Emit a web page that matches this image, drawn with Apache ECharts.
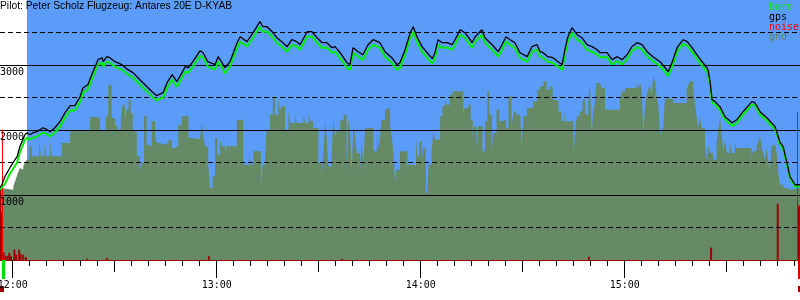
<!DOCTYPE html>
<html>
<head>
<meta charset="utf-8">
<script src="https://cdn.jsdelivr.net/npm/echarts@6/dist/echarts.min.js"></script>
<style>html,body{margin:0;padding:0;background:#fff}#c{width:800px;height:300px}</style>
</head>
<body>
<div id="c"></div>
<script>
// ---- data (time = minutes after 12:00, altitude in m) ----
const TITLE = 'Pilot: Peter Scholz Flugzeug: Antares 20E D-KYAB';
const XMIN = -3.735, XMAX = 231.55;
const SKY_START = 4.2;
const hourTicks = [0, 60, 120, 180];
const halfHourTicks = [30, 90, 150, 210];
const yLabels = [1000, 2000, 3000];
const solidLevels = [1000, 2000, 3000];
const dashedLevels = [500, 1500, 2500, 3500];
const takeoffT = [-2.85];
const landingT = [231.4];
const endMarkT = [-3.15, 231.4];

const trackT = [-3.7,-3.2,-2.3,-0.8,0.1,1.3,2.1,3.6,4.2,5.1,6.0,7.1,8.9,10.1,11.0,12.4,13.9,15.4,16.9,18.3,19.8,20.7,22.1,23.6,25.1,26.3,26.6,27.7,28.6,30.1,32.1,33.9,35.4,37.4,39.5,41.0,42.4,44.2,45.4,46.9,48.3,49.8,50.7,51.6,53.0,55.1,56.0,57.4,59.5,60.4,61.6,62.4,63.9,66.0,66.9,68.9,70.7,72.7,73.6,74.8,76.3,77.7,79.5,80.7,82.1,83.6,84.5,86.6,88.0,89.5,91.0,92.4,93.9,94.8,96.3,98.3,99.2,100.1,101.6,103.0,104.5,106.0,108.0,109.5,111.5,113.0,113.9,115.4,116.9,117.8,118.9,120.4,121.9,123.4,124.2,125.1,126.3,127.7,129.2,130.1,131.6,133.0,133.9,135.1,136.0,138.0,138.9,141.0,142.8,143.9,145.1,146.3,147.7,149.2,151.3,152.7,154.2,155.1,156.0,157.4,158.9,160.4,161.6,162.4,163.3,164.5,166.0,167.4,168.9,170.4,171.9,172.8,174.8,176.3,177.8,179.2,180.7,182.1,183.6,185.1,186.6,188.3,190.4,191.9,192.8,193.9,195.4,197.2,198.4,199.8,201.6,203.0,204.5,205.1,205.7,206.6,208.0,209.5,211.6,213.0,214.8,217.4,218.3,219.8,221.8,224.2,224.8,225.7,226.6,227.7,228.6,230.1,231.6];
const gps = [1112,1158,1282,1420,1497,1589,1743,1928,1958,1928,1958,1974,2035,2005,1974,2035,2128,2266,2374,2374,2512,2651,2697,2897,3082,3112,3051,3128,3112,3051,3005,2928,2882,2774,2666,2589,2528,2574,2728,2851,2743,2882,2974,2958,3051,3220,3189,3051,3005,3128,3035,2958,3051,3343,3435,3359,3497,3666,3589,3589,3512,3420,3343,3282,3389,3359,3312,3512,3512,3420,3343,3343,3266,3282,3189,3035,3005,3266,3205,3158,3312,3389,3343,3205,3112,3005,3035,3235,3497,3589,3435,3282,3189,3097,3189,3389,3343,3343,3312,3389,3543,3497,3435,3343,3435,3543,3420,3312,3205,3312,3435,3389,3343,3189,3128,3282,3312,3205,3189,3128,3112,3051,3005,3235,3435,3574,3466,3420,3312,3282,3235,3189,3189,3082,3128,3082,3158,3282,3343,3312,3205,3128,3051,2958,2897,3035,3266,3389,3359,3266,3128,3035,2928,2743,2466,2436,2359,2205,2112,2158,2282,2436,2420,2282,2189,2051,1958,1805,1743,1497,1282,1158,1158];
const baro = [1082,1100,1170,1330,1400,1500,1650,1850,1880,1855,1880,1900,1960,1935,1900,1960,2050,2190,2300,2300,2435,2575,2620,2820,3005,3040,2975,3050,3035,2975,2930,2850,2805,2700,2590,2515,2455,2500,2650,2775,2665,2805,2900,2880,2975,3140,3110,2975,2930,3050,2960,2870,2975,3265,3360,3285,3420,3590,3510,3515,3435,3345,3265,3205,3310,3285,3235,3435,3440,3345,3265,3270,3190,3205,3110,2960,2925,3190,3130,3080,3235,3310,3265,3130,3035,2925,2960,3160,3420,3510,3360,3205,3110,3020,3110,3310,3265,3270,3235,3310,3465,3420,3360,3265,3360,3465,3345,3235,3130,3235,3360,3310,3265,3110,3050,3205,3235,3130,3110,3050,3035,2975,2925,3160,3360,3495,3390,3345,3235,3205,3160,3120,3120,3010,3060,3010,3090,3215,3275,3245,3140,3060,2985,2895,2830,2970,3200,3325,3295,3205,3070,2975,2870,2690,2420,2390,2310,2160,2065,2110,2235,2390,2375,2235,2145,2010,1920,1770,1710,1470,1260,1130,1130];

const gndT = [-3.7,-3.2,0.2,0.7,1.2,1.7,2.1,2.6,3.1,3.6,4.1,4.9,5.6,7.8,8.3,9.3,9.8,11.0,11.5,14.4,16.9,22.7,24.7,25.7,27.4,28.1,29.1,30.1,30.8,31.8,32.3,33.0,33.5,34.1,34.7,35.3,36.5,37.4,37.9,38.6,39.4,39.9,40.9,41.9,42.3,43.3,44.8,45.8,46.8,47.7,48.7,49.7,51.7,52.6,55.1,55.6,56.1,56.6,57.5,58.0,58.8,59.5,60.2,61.0,61.5,62.5,62.9,65.9,67.8,69.6,70.0,70.8,73.0,73.5,74.2,74.7,75.7,76.5,77.1,78.1,78.6,79.1,80.1,81.1,81.6,83.0,83.5,85.5,86.0,87.0,87.5,88.4,89.9,90.9,91.4,91.9,92.3,92.8,93.8,94.3,94.8,95.3,96.3,96.8,97.3,98.2,98.7,99.2,99.7,100.2,100.7,101.2,102.2,102.6,103.1,103.6,106.1,107.1,107.5,108.0,108.5,109.5,110.0,111.0,111.5,112.0,112.4,112.9,113.9,116.1,117.8,118.6,119.0,119.6,120.3,120.8,121.5,121.9,122.3,123.2,123.7,124.2,125.7,126.4,127.1,127.6,128.6,129.4,132.5,133.0,134.0,134.7,135.3,135.7,136.4,136.9,138.2,138.9,139.6,140.2,140.9,141.3,142.3,143.1,143.8,145.1,145.8,146.7,147.2,147.7,148.2,149.2,149.7,150.2,151.2,153.1,154.3,155.1,156.1,157.0,158.0,158.8,159.5,160.5,161.4,162.2,162.5,164.9,165.4,165.9,166.8,167.6,168.3,169.3,169.8,170.3,170.8,171.2,171.7,172.7,173.2,174.2,178.6,179.1,180.1,183.5,184.0,184.5,185.0,185.5,185.9,186.4,186.9,187.4,187.9,188.4,188.9,189.4,189.9,190.3,190.8,191.3,191.8,192.3,193.3,194.3,198.2,198.7,199.2,200.1,200.6,201.1,201.6,202.1,202.6,203.6,204.1,204.6,205.1,206.0,207.0,207.5,208.0,208.5,209.0,209.5,210.0,210.9,211.4,212.4,212.9,217.3,217.8,218.8,219.3,219.8,220.2,220.7,221.2,221.7,222.2,222.7,223.2,223.7,224.2,224.7,225.2,225.6,226.6,227.6,229.1,231.6];
const gnd = [1108,1082,1133,1210,1287,1364,1415,1390,1441,1492,1543,1749,1595,1810,1595,1810,1595,1810,1595,1800,1979,2200,2184,1979,2210,2697,2184,2067,2005,2184,2390,2133,2323,2467,2261,1979,1595,1364,1492,2210,1774,1749,2133,1902,1800,1774,1800,1851,1723,1749,2082,2210,1877,1861,1877,2108,1877,1749,1467,1108,1287,1877,1620,1851,1749,1620,1749,2159,1467,1672,1467,1672,1159,1467,1595,2005,2236,2502,2236,2492,2313,2364,2005,2313,2108,2236,2108,2236,2108,2236,2133,2031,1492,1287,1672,2133,1902,1441,1646,2184,1902,1979,2133,2159,2236,1313,2184,1979,1338,2082,1902,1646,1338,1851,1441,2031,1672,2031,1697,1902,2159,2313,2338,2056,1902,1646,1210,1390,1672,1467,1441,1877,1595,1826,1518,1723,1056,1005,1467,1672,1979,1851,2210,2364,2467,2390,2543,2595,2287,2338,2390,2159,1902,2056,1697,2056,1672,2133,2595,2236,1672,1954,2313,2133,2159,2031,2518,2031,2236,2313,2236,2287,1749,2210,2338,2441,2620,2672,2749,2620,2672,2467,2441,2287,2133,2287,2133,1620,1954,2210,2287,2467,2236,2467,2697,1954,2313,2390,2723,2697,2646,2313,2467,2595,2646,2723,2646,2723,2620,1954,2313,2518,2620,2697,2543,2826,2749,2518,2364,2031,1902,2056,2467,2492,2467,2415,2620,2697,2749,2646,2441,2210,2031,2210,2031,1774,1543,1774,1646,1543,1800,1979,2210,1954,1672,1851,1646,1826,1646,1800,1723,1595,1672,1749,1826,1902,1749,1646,1543,1723,1543,1390,1749,1774,1800,1646,1338,1159,1108,1082,1108,1108];

const noiseT = [-3.7,-3.4,-2.7,-2.3,-1.6,-1.0,-0.5,0.5,1.0,1.9,2.3,3.1,3.9,21.9,27.7,57.7,96.9,169.5,205.4,225.0,231.0,231.4];
const noise = [1097,727,120,70,60,110,60,160,80,160,90,80,40,20,30,60,15,50,190,866,835,835];

const markerT = [-3.2, 230.8];
const markerAlt = [2005, 2280];

// ---- helpers ----
const minorTicks = [];
for (let m = 0; m <= XMAX; m += 5) minorTicks.push(m);
const zip = (a, b) => a.map((v, i) => [v, b[i]]);
const hhmm = v => { const h = 12 + Math.floor(v / 60); const m = Math.round(v - Math.floor(v / 60) * 60); return h + ':' + (m < 10 ? '0' : '') + m; };
const MONO = 'DejaVu Sans Mono';

const baseX = {
  type: 'value', min: XMIN, max: XMAX, position: 'bottom',
  splitLine: { show: false }, axisLine: { show: false }, axisLabel: { show: false }
};

const chart = echarts.init(document.getElementById('c'), null, { renderer: 'canvas' });
chart.setOption({
  animation: false,
  backgroundColor: '#ffffff',
  title: {
    text: TITLE, left: 0, top: 1, padding: 0,
    textStyle: { fontFamily: 'Liberation Sans', fontSize: 10.3, fontWeight: 'normal', color: '#000' }
  },
  legend: {
    orient: 'vertical', left: 764, top: 2, padding: 0, itemGap: 0,
    itemWidth: 0, itemHeight: 10, icon: 'none', selectedMode: false,
    textStyle: { fontFamily: MONO, fontSize: 10, lineHeight: 10 },
    data: [
      { name: 'baro', textStyle: { color: '#00ee00' } },
      { name: 'gps', textStyle: { color: '#000000' } },
      { name: 'noise', textStyle: { color: '#ff0000' } },
      { name: 'gnd', textStyle: { color: '#60845f' } }
    ]
  },
  grid: { left: 0, right: 0, top: 0, bottom: 40, containLabel: false, outerBoundsMode: 'none' },
  xAxis: [
    Object.assign({}, baseX, {
      axisLine: { show: true, lineStyle: { color: '#a00000', width: 2 } },
      axisTick: { show: true, customValues: minorTicks, length: 6, lineStyle: { color: '#000', width: 1 } }
    }),
    Object.assign({}, baseX, {
      axisTick: { show: true, customValues: halfHourTicks, length: 12, lineStyle: { color: '#000', width: 1 } }
    }),
    Object.assign({}, baseX, {
      axisTick: { show: true, customValues: hourTicks, length: 18, lineStyle: { color: '#000', width: 1 } },
      axisLabel: { show: true, customValues: hourTicks, margin: 20, formatter: hhmm,
        alignMinLabel: 'center', alignMaxLabel: 'center',
        fontFamily: MONO, fontSize: 10, lineHeight: 10, color: '#000' }
    }),
    Object.assign({}, baseX, {
      axisTick: { show: true, customValues: takeoffT, length: 19, lineStyle: { color: '#00dd00', width: 3 } }
    }),
    Object.assign({}, baseX, {
      axisTick: { show: true, customValues: landingT, length: 19, lineStyle: { color: '#dd0000', width: 3 } }
    }),
    Object.assign({}, baseX, {
      offset: 26,
      axisTick: { show: true, customValues: endMarkT, length: 6, lineStyle: { color: '#a00000', width: 4 } }
    })
  ],
  yAxis: {
    type: 'value', min: 0, max: 4000, interval: 1000, z: 10,
    splitLine: { show: false }, axisLine: { show: false }, axisTick: { show: false },
    axisLabel: {
      inside: true, margin: 0, customValues: yLabels, formatter: v => String(v),
      align: 'left', fontFamily: MONO, fontSize: 10, lineHeight: 10, color: '#000',
      verticalAlign: 'top', padding: [2, 0, 0, 0]
    }
  },
  series: [
    {
      name: 'sky', type: 'line', data: [], z: 0, silent: true,
      markArea: {
        silent: true, itemStyle: { color: '#5b9cf9', opacity: 1 },
        data: [[{ xAxis: SKY_START, yAxis: 0 }, { xAxis: XMAX, yAxis: 4000 }]]
      }
    },
    {
      name: 'gnd', type: 'line', step: 'end', data: zip(gndT, gnd), z: 1,
      symbol: 'none', lineStyle: { width: 0, color: '#668a66' },
      itemStyle: { color: '#668a66' },
      areaStyle: { color: '#668a66', opacity: 1 }
    },
    {
      name: 'grid', type: 'line', data: [], z: 3, silent: true,
      markLine: {
        silent: true, symbol: ['none', 'none'], label: { show: false },
        data: solidLevels.map(v => ({ yAxis: v, lineStyle: { color: '#000', width: 1, type: 'solid' } }))
          .concat(dashedLevels.map(v => ({ yAxis: v, lineStyle: { color: '#000', width: 1, type: [5, 3] } })))
      }
    },
    {
      name: 'markers', type: 'line', data: [], z: 3, silent: true,
      markLine: {
        silent: true, symbol: ['none', 'none'], label: { show: false },
        lineStyle: { color: '#ff0000', width: 1, type: 'solid' },
        data: markerT.map((t, i) => [{ coord: [t, 0] }, { coord: [t, markerAlt[i]] }])
      }
    },
    {
      name: 'noise', type: 'custom', data: zip(noiseT, noise), z: 4,
      encode: { x: 0, y: 1 }, itemStyle: { color: '#a00000' },
      renderItem: (params, api) => {
        const top = api.coord([api.value(0), api.value(1)]);
        const base = api.coord([api.value(0), 0]);
        return { type: 'rect', shape: { x: top[0] - 1, y: top[1], width: 2, height: base[1] - top[1] },
                 style: { fill: '#a00000' } };
      }
    },
    {
      name: 'baro', type: 'line', data: zip(trackT, baro), z: 5,
      symbol: 'none', lineStyle: { color: '#00ee00', width: 2 }, itemStyle: { color: '#00ee00' }
    },
    {
      name: 'gps', type: 'line', data: zip(trackT, gps), z: 6,
      symbol: 'none', lineStyle: { color: '#000000', width: 1.3 }, itemStyle: { color: '#000' }
    }
  ]
});
</script>
</body>
</html>
